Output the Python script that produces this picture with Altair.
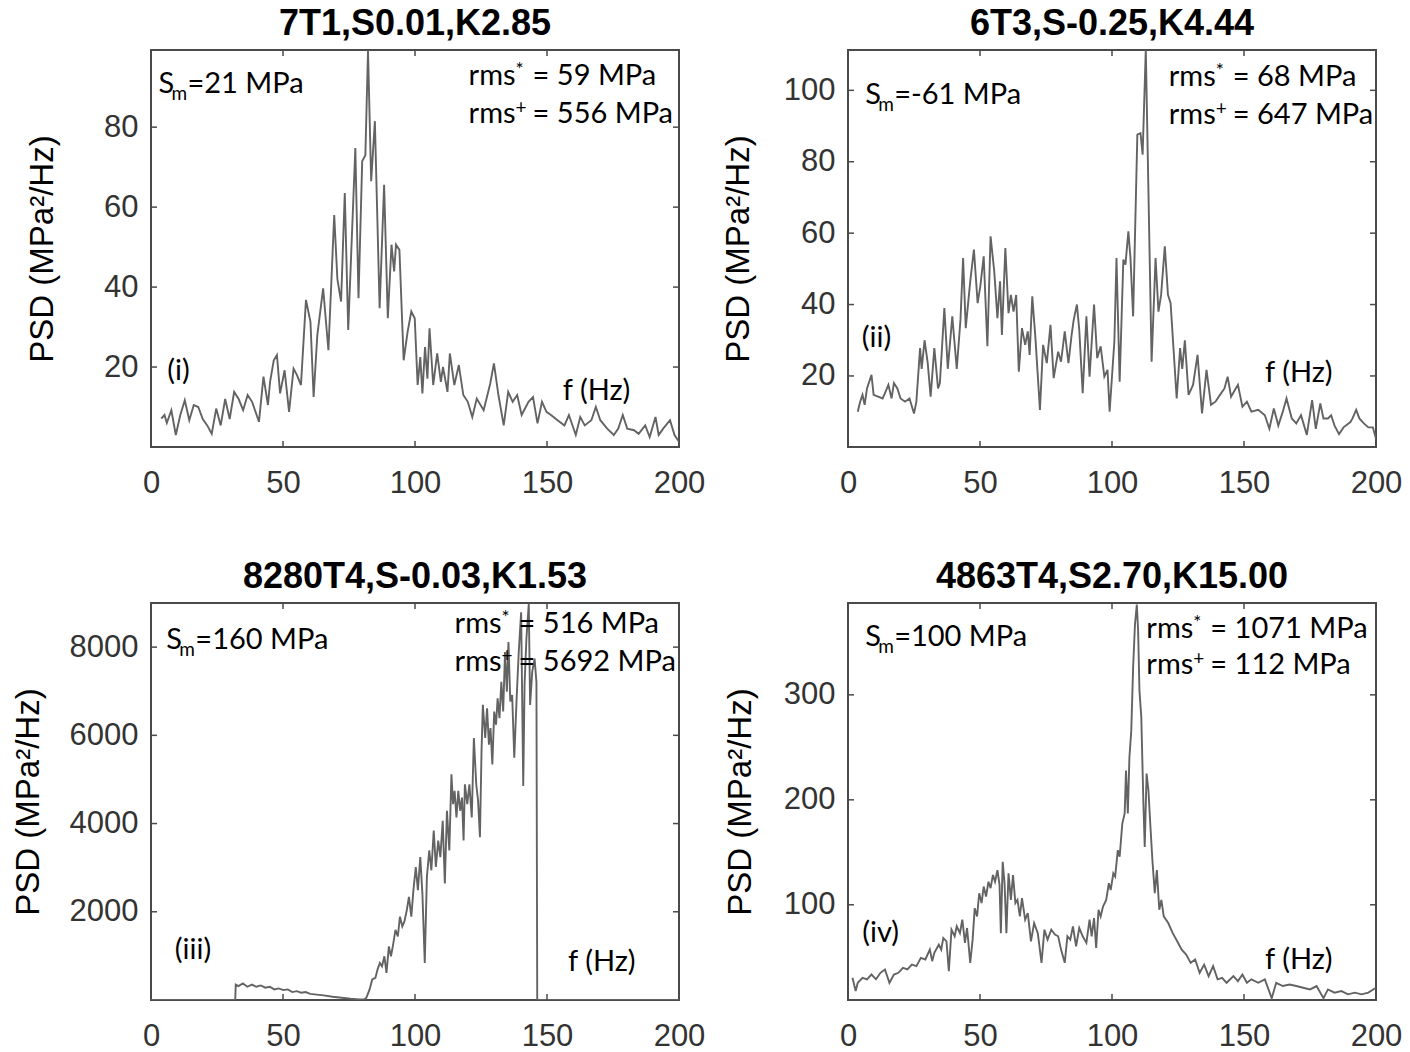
import altair as alt
import pandas as pd

# ---------------- data ----------------
x_ticks = [0, 50, 100, 150, 200]

titles = ["7T1,S0.01,K2.85", "6T3,S-0.25,K4.44", "8280T4,S-0.03,K1.53", "4863T4,S2.70,K15.00"]
y_domains = [[0, 99.3], [0.1, 111.3], [0, 9000], [9.3, 387.5]]
y_ticks = [[20, 40, 60, 80], [20, 40, 60, 80, 100], [2000, 4000, 6000, 8000], [100, 200, 300]]

sm_values = ["21", "-61", "160", "100"]
rms_star = ["59", "68", "516", "1071"]
rms_plus = ["556", "647", "5692", "112"]
romans = ["(i)", "(ii)", "(iii)", "(iv)"]

# (f [Hz], PSD) pairs
psd1 = [(3.9, 7.1), (5.1, 8), (6.0, 6), (7.7, 9.2), (9.4, 3), (11.1, 8), (12.8, 11.7), (14.5, 6.7),
        (16.2, 10.5), (17.9, 10), (19.6, 7), (21.3, 5.4), (23.0, 3.3), (24.7, 9.6), (26.4, 5.4),
        (28.1, 12), (29.8, 7), (31.5, 13.8), (33.2, 12), (34.9, 9.2), (36.6, 13), (38.3, 11.3),
        (40.9, 6.3), (42.6, 17.6), (44.3, 10.5), (45.1, 16.3), (46.5, 21.7), (47.7, 23), (48.9, 13.4),
        (50.6, 19.2), (52.3, 8.8), (54.0, 19.6), (55.3, 18), (56.8, 15.5), (58.7, 36.8), (60.4, 31.3),
        (61.6, 12.5), (63.0, 28), (65.2, 39.7), (67.2, 24.2), (69.4, 58), (70.6, 42), (72.0, 36.4),
        (73.4, 63.5), (74.7, 29.3), (77.4, 74.8), (78.6, 37.2), (80.0, 71.5), (81.2, 73), (82.2, 99.2),
        (83.4, 66.5), (84.8, 81.5), (86.6, 34.7), (88.3, 65.6), (89.7, 32.2), (91.1, 50.6), (92.1, 43.9),
        (92.8, 50.6), (94.1, 49.3), (95.7, 21.7), (97.2, 28.8), (98.6, 33.9), (99.9, 32.2), (101.0, 15.5),
        (102.0, 22.5), (102.8, 13.4), (103.8, 25), (104.7, 17.1), (105.5, 29.7), (106.9, 15.5),
        (108.4, 23.4), (109.8, 16.3), (110.6, 20), (112.3, 13.8), (113.2, 23.4), (114.9, 15.5),
        (116.6, 20.5), (118.3, 13), (120.0, 11.3), (121.7, 7.5), (123.4, 12.1), (126.0, 9.2),
        (128.5, 15.9), (129.9, 20.9), (131.6, 13), (133.6, 5.4), (135.3, 13.8), (137.0, 11.3),
        (138.7, 13), (140.4, 8), (143.0, 11.3), (144.7, 12.5), (146.4, 5.9), (148.1, 11.3), (149.8, 8.8),
        (151.5, 8), (154.0, 6.7), (156.6, 5.4), (158.3, 8), (160.9, 3), (162.6, 7.5), (164.3, 5.4),
        (166.8, 6.7), (168.5, 10), (170.2, 6.7), (172.8, 4.6), (175.3, 3), (177.0, 4.6), (178.7, 8),
        (180.4, 4.6), (183.0, 4.2), (184.7, 3.3), (187.2, 5.4), (188.9, 2.5), (191.1, 7.5), (192.3, 3),
        (194.0, 4.6), (196.6, 6.7), (198.3, 3), (200.0, 1.3)]

psd2 = [(3.7, 10), (4.6, 12.8), (5.5, 14.7), (6.3, 11.9), (7.2, 16.5), (8.9, 20.3), (9.7, 14.7),
        (11.4, 14.2), (13.1, 13.7), (14.0, 15.2), (15.3, 17.5), (16.5, 13.7), (17.4, 18), (18.7, 16.5),
        (19.9, 13.7), (21.6, 12.8), (23.3, 13.7), (25.0, 9.5), (25.9, 12.8), (27.3, 27.8), (27.9, 22),
        (29.0, 30), (30.2, 23.6), (31.3, 14.2), (32.7, 27.8), (34.1, 16.5), (34.8, 18), (36.5, 39),
        (37.8, 22), (39.5, 36.7), (41.2, 22), (42.6, 35.7), (43.6, 53), (44.6, 33.4), (46.3, 46.5),
        (47.7, 55.4), (49.1, 40.4), (50.1, 45), (51.4, 53.5), (52.8, 28.3), (54.0, 59.1), (55.4, 49.3),
        (56.6, 36.2), (57.6, 46.5), (58.3, 31.5), (59.6, 55.8), (60.8, 37.6), (61.7, 42.7), (62.7, 38),
        (63.7, 42.7), (64.7, 21.2), (65.9, 33.4), (67.1, 28.7), (68.1, 32.5), (68.8, 25.9), (69.8, 42.3),
        (71.0, 30.6), (72.7, 10.5), (73.9, 28.7), (75.3, 23.6), (76.7, 34.3), (77.9, 19.4), (79.6, 26.8),
        (80.7, 24), (82.1, 32.5), (83.5, 23.6), (84.7, 31.5), (85.5, 35.7), (86.7, 40), (87.6, 32.9),
        (88.9, 15.2), (90.3, 36.7), (91.5, 19.8), (93.2, 40), (94.4, 25), (95.7, 28.3), (97.1, 19.8),
        (98.3, 21.7), (99.1, 10), (100.9, 29.7), (101.7, 53), (102.9, 18.4), (104.3, 52.6), (105.1, 51.2),
        (106.2, 60.5), (107.0, 53), (108.0, 36.7), (109.6, 87.6), (110.8, 88), (111.6, 82), (112.8, 111.5),
        (115.0, 24), (116.5, 53), (117.6, 38), (118.6, 42.7), (120.0, 56.3), (121.2, 42.7), (122.2, 40.4),
        (124.5, 13.7), (125.8, 27.8), (126.6, 22), (127.6, 30), (129.0, 14.7), (130.7, 17.5),
        (132.4, 25.9), (134.1, 9.5), (135.8, 21.7), (137.5, 11.9), (139.2, 12.8), (140.9, 14.7),
        (142.6, 16.5), (143.8, 19.8), (145.1, 14.2), (146.5, 16), (147.7, 17.5), (149.4, 11.4),
        (151.1, 12.8), (152.8, 10), (155.4, 10.5), (157.9, 9), (159.6, 5.2), (161.3, 10.9), (163.0, 6.1),
        (164.7, 10), (166.1, 13.7), (168.1, 8.1), (169.8, 6.7), (171.6, 9), (173.8, 3.5), (175.8, 13.2),
        (177.2, 5.2), (178.9, 12.3), (180.1, 8.1), (181.8, 8.1), (183.0, 9), (184.3, 6.1), (186.0, 3.7),
        (187.7, 5.6), (190.3, 7.1), (191.1, 8.1), (192.5, 10.5), (193.7, 8.1), (195.4, 6.7), (197.1, 5.6),
        (198.8, 5.6), (200.0, 2.4)]

psd3 = [(0, 0), (31.9, 0), (32.1, 350), (33.1, 315), (34.8, 375), (36.5, 300), (38.2, 350), (39.9, 300),
        (41.6, 330), (43.3, 280), (45.0, 300), (46.7, 240), (48.4, 262), (50.1, 225), (51.8, 240),
        (53.5, 180), (55.2, 200), (56.9, 165), (58.6, 180), (60.3, 140), (62.0, 128), (65.4, 105),
        (68.8, 75), (72.2, 52), (75.6, 30), (79.0, 15), (80.7, 10), (81.6, 52), (82.8, 240), (83.8, 465),
        (85.0, 500), (85.8, 690), (86.7, 840), (87.5, 765), (88.4, 990), (89.2, 615), (90.1, 1215),
        (90.9, 990), (91.8, 1290), (92.6, 1590), (93.5, 1440), (94.3, 1890), (95.2, 1665), (96.0, 1780),
        (96.9, 2040), (97.7, 2340), (98.6, 1890), (99.4, 2490), (100.3, 3015), (101.1, 2490),
        (102.0, 3240), (102.8, 2415), (103.7, 840), (104.5, 2790), (105.4, 3390), (106.2, 2940),
        (107.1, 3840), (107.9, 3015), (108.8, 3615), (109.6, 3240), (110.5, 4065), (111.3, 2640),
        (112.1, 4290), (113.0, 3390), (113.8, 5115), (114.4, 4440), (115.0, 4740), (115.7, 4140),
        (116.4, 4740), (117.1, 4290), (117.8, 4590), (118.4, 3615), (118.9, 4890), (119.8, 4440),
        (120.6, 4890), (121.5, 4140), (122.3, 5940), (123.2, 4890), (123.9, 4515), (124.6, 3690),
        (125.2, 5640), (125.7, 6690), (126.6, 5940), (127.3, 6615), (128.0, 5790), (128.6, 6165),
        (129.3, 5340), (130.0, 6540), (130.7, 6240), (131.3, 6840), (132.0, 6390), (132.7, 7215),
        (133.4, 6540), (134.1, 7890), (134.8, 6990), (135.4, 8115), (136.1, 6765), (136.8, 6915),
        (137.6, 5490), (138.5, 6840), (139.3, 7890), (140.2, 8790), (141.0, 4852), (141.5, 7140),
        (142.2, 8190), (143.1, 8980), (143.6, 6690), (144.4, 7440), (145.3, 7740), (146.0, 7200),
        (146.3, 0), (200.0, 0)]

psd4 = [(1.7, 30.5), (2.9, 17.8), (3.7, 25.7), (5.5, 30.5), (7.2, 29), (8.9, 33.6), (10.6, 29),
        (12.3, 35.2), (14.0, 38.4), (15.7, 25.7), (17.4, 33.6), (19.1, 35.2), (20.8, 40), (22.5, 38.4),
        (24.2, 43), (25.9, 41.5), (27.6, 49.4), (29.3, 47.9), (31.0, 57.3), (31.9, 46.3), (32.7, 54.2),
        (34.4, 62), (35.3, 57.3), (36.1, 68.4), (37.3, 65.2), (38.2, 36.8), (39.2, 76.3), (40.4, 70),
        (41.2, 79.5), (42.4, 73), (43.3, 85.8), (44.3, 63.7), (45.1, 77.9), (46.3, 44.7), (47.2, 66.8),
        (48.0, 96.8), (48.9, 88.9), (49.7, 111), (50.6, 101.6), (51.4, 117.4), (52.3, 107.9), (53.2, 122),
        (54.0, 115.8), (54.9, 128.4), (55.7, 122), (56.6, 133), (57.4, 119), (57.9, 73), (58.6, 141),
        (59.3, 120.5), (60.0, 73), (60.8, 130), (61.7, 104.7), (62.5, 128.4), (63.4, 101.6), (64.2, 104.7),
        (65.1, 89), (65.9, 106.3), (67.1, 85.8), (68.1, 92), (69.3, 65.2), (70.5, 82.6), (71.9, 73),
        (73.3, 44.7), (74.4, 76.3), (75.6, 66.8), (77.0, 76.3), (78.4, 71.6), (79.6, 70), (80.7, 57.3),
        (82.1, 44.7), (83.1, 70), (84.2, 66.8), (85.2, 79.5), (86.4, 60.5), (87.6, 77.9), (88.9, 70),
        (90.3, 63.7), (91.5, 85.8), (92.3, 70), (93.2, 87.4), (94.0, 58.9), (94.9, 95.3), (95.7, 88.9),
        (96.6, 98.4), (97.8, 104.7), (98.8, 120.5), (99.5, 114), (100.5, 130), (101.2, 126.9),
        (102.2, 152), (102.9, 145.8), (103.9, 177.4), (104.8, 187), (105.3, 228), (106.0, 187),
        (106.6, 240.6), (107.3, 265.9), (108.0, 326), (108.7, 367), (109.4, 386), (109.9, 361),
        (110.4, 304), (111.1, 278.5), (111.9, 196), (112.4, 155), (113.1, 225), (113.8, 209), (114.5, 177),
        (115.3, 142.7), (116.2, 111), (117.0, 133), (117.9, 95.3), (118.7, 104.7), (119.6, 89),
        (121.3, 82.6), (123.0, 73), (124.7, 65.2), (126.4, 57.3), (128.1, 52.6), (129.8, 44.7),
        (131.5, 47.9), (133.2, 35.2), (134.9, 43), (136.6, 32), (138.3, 41.5), (140.0, 29), (141.7, 30.5),
        (143.4, 25.7), (146.0, 32), (147.7, 27.3), (149.4, 33.6), (151.1, 25.7), (152.8, 29), (155.4, 25.7),
        (157.9, 29), (160.5, 11), (162.2, 25.7), (164.7, 22.6), (167.3, 24), (169.8, 22.6), (172.4, 21),
        (175.0, 19.4), (177.5, 22.6), (180.1, 11), (181.8, 19.4), (184.3, 16.3), (186.9, 17.8),
        (189.4, 14.7), (192.0, 16.3), (194.5, 14.7), (197.1, 16.3), (200.0, 21)]

series = [psd1, psd2, psd3, psd4]

# annotation anchors in data units (f, PSD) -- text baselines
sm_pos = [(2.8, 88.6), (6.5, 96.1), (5.8, 7957), (6.5, 346.5)]
rms1_pos = [(120.3, 90.6), (121.5, 101.3), (115.0, 8330), (113.0, 354)]
rms2_pos = [(120.3, 81.1), (121.5, 90.7), (115.0, 7450), (113.0, 320)]
roman_pos = [(6.2, 16.8), (5.2, 28.0), (9.0, 919), (5.4, 65)]
fhz_pos = [(156.0, 11.8), (158.0, 18.2), (158.0, 655), (158.0, 38.4)]

# ---------------- styling ----------------
W, H = 528, 397
LINE = "#636363"
FRAME = "#4a4a4a"
ANN_FONT = "Lato"
ANN_SIZE = 29
SUB_SIZE = 19
ytitle_offsets = [109, 110, 123, 108]


def make_panel(i):
    xs = alt.Scale(domain=[0, 200], nice=False, zero=False)
    ys = alt.Scale(domain=y_domains[i], nice=False, zero=False)
    xaxis = alt.Axis(values=x_ticks, format="d", title=None, ticks=False, labelFlush=False,
                     domain=False, grid=False, labelPadding=21)
    yaxis = alt.Axis(values=y_ticks[i], format="d", title="PSD (MPa²/Hz)", labelFlush=False,
                     ticks=False, domain=False, grid=False, labelPadding=13,
                     titleX=-ytitle_offsets[i], titleY=H / 2, titleAngle=270,
                     titleBaseline="middle", titleAlign="center")
    X = lambda: alt.X("f:Q", scale=xs, axis=xaxis)
    Y = lambda: alt.Y("psd:Q", scale=ys, axis=yaxis)

    df = pd.DataFrame(series[i], columns=["f", "psd"])
    line = alt.Chart(df).mark_line(color=LINE, strokeWidth=1.9, clip=True).encode(
        x=X(), y=Y(), order="f:Q")

    ydf = pd.DataFrame({"psd": y_ticks[i]})
    xdf = pd.DataFrame({"f": [50, 100, 150]})
    tick_style = dict(color=FRAME, strokeWidth=1.5)
    ytl = alt.Chart(ydf).mark_rule(**tick_style).encode(y=Y(), x=alt.value(0), x2=alt.value(6))
    ytr = alt.Chart(ydf).mark_rule(**tick_style).encode(y=Y(), x=alt.value(W - 6), x2=alt.value(W))
    xtb = alt.Chart(xdf).mark_rule(**tick_style).encode(x=X(), y=alt.value(H - 6), y2=alt.value(H))
    xtt = alt.Chart(xdf).mark_rule(**tick_style).encode(x=X(), y=alt.value(0), y2=alt.value(6))

    def txt(pos, text, size=ANN_SIZE, dx=0, dy=0):
        d = pd.DataFrame({"f": [pos[0]], "psd": [pos[1]]})
        return alt.Chart(d).mark_text(
            text=text, align="left", baseline="alphabetic", font=ANN_FONT,
            fontSize=size, color="black", dx=dx, dy=dy,
        ).encode(x=X(), y=Y())

    anns = [
        txt(sm_pos[i], "S"),
        txt(sm_pos[i], "m", size=SUB_SIZE, dx=13, dy=7),
        txt(sm_pos[i], "=" + sm_values[i] + " MPa", dx=29),
        txt(rms1_pos[i], "rms"),
        txt(rms1_pos[i], "*", size=SUB_SIZE, dx=47, dy=-9),
        txt(rms1_pos[i], "= " + rms_star[i] + " MPa", dx=64),
        txt(rms2_pos[i], "rms"),
        txt(rms2_pos[i], "+", size=SUB_SIZE, dx=47, dy=-9),
        txt(rms2_pos[i], "= " + rms_plus[i] + " MPa", dx=64),
        txt(roman_pos[i], romans[i]),
        txt(fhz_pos[i], "f (Hz)"),
    ]

    return alt.layer(line, ytl, ytr, xtb, xtt, *anns).properties(
        width=W, height=H,
        title=alt.TitleParams(titles[i], font="Liberation Sans", fontSize=36,
                              fontWeight="bold", color="black", offset=6, anchor="middle"),
    )


chart = alt.concat(
    *[make_panel(i) for i in range(4)],
    columns=2,
    spacing=alt.RowColnumber(row=156, column=169),
    bounds="flush",
).properties(
    padding={"left": 11, "top": 5, "right": 4, "bottom": 0},
    background="white",
).configure_view(
    stroke=FRAME, strokeWidth=2,
).configure_axis(
    labelFont="Liberation Sans", labelFontSize=31, labelColor="#333333",
    titleFont="Liberation Sans", titleFontSize=33, titleFontWeight="normal", titleColor="black",
)

chart.save("out.html", embed_options={"renderer": "svg", "actions": False})
